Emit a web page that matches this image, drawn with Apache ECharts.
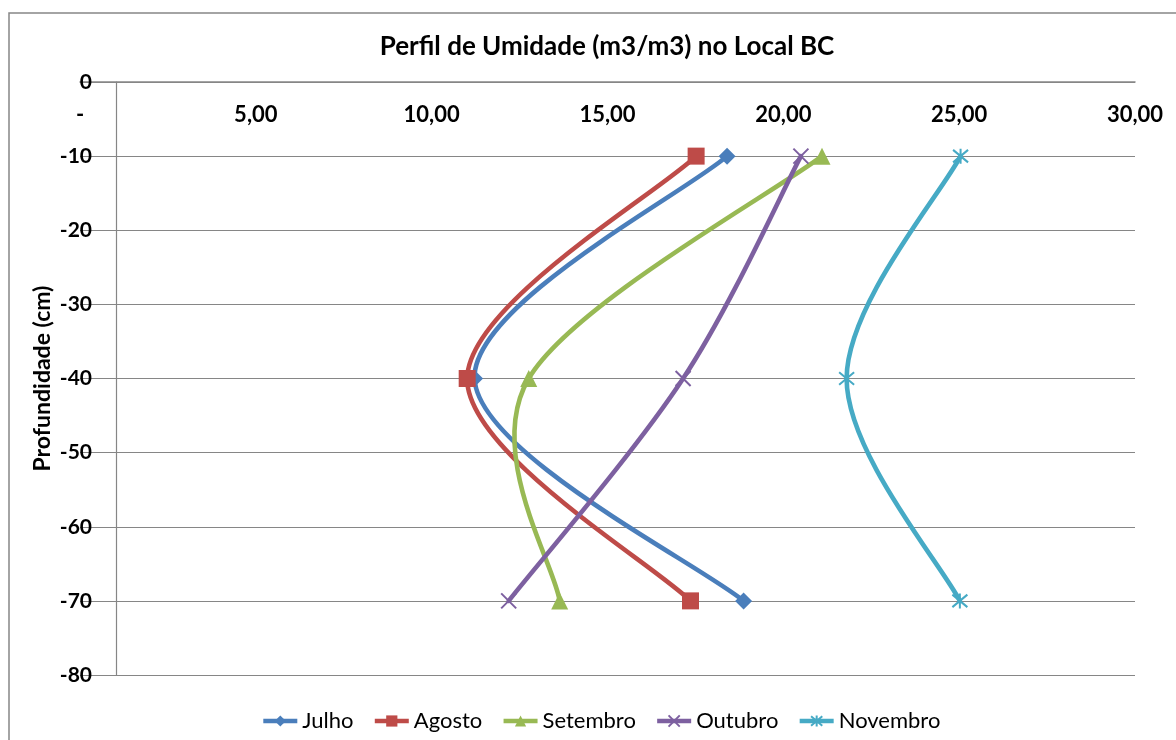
<!DOCTYPE html>
<html>
<head>
<meta charset="utf-8">
<script src="https://cdn.jsdelivr.net/npm/echarts@6/dist/echarts.min.js"></script>
<style>
  html, body { margin: 0; padding: 0; background: #fff; }
  #chart { width: 1176px; height: 740px; }
</style>
</head>
<body>
<div id="chart"></div>
<script>
// Profundidade (cm) das leituras
var depths = [-10, -40, -70];
// Umidade (m3/m3) por mês
var julho    = [18.40, 11.22, 18.87];
var agosto   = [17.52, 11.01, 17.36];
var setembro = [21.10, 12.76, 13.64];
var outubro  = [20.50, 17.15, 12.19];
var novembro = [25.04, 21.80, 25.02];

var seriesNames = ['Julho', 'Agosto', 'Setembro', 'Outubro', 'Novembro'];
var seriesValues = [julho, agosto, setembro, outubro, novembro];
var colors = ['#4A7EBB', '#BE4B48', '#98B954', '#7D60A0', '#46AAC5'];
var symbols = [
  'diamond',
  'rect',
  'triangle',
  'path://M0,0L10,10M10,0L0,10',
  'path://M0,0L10,10M10,0L0,10M5,-1L5,11'
];

var FONT = 'Lato, "Open Sans", sans-serif';
var AXIS_GREY = '#868686';
var LINE_W = 4.6;

function pairs(values) {
  return values.map(function (v, i) { return [v, depths[i]]; });
}

// Smoothed path through the points: cubic Bezier segments whose control
// points follow the neighbouring points (tangent = (next - prev) / 6),
// with the end points repeated at both ends.
function smoothPath(pts) {
  var n = pts.length;
  var d = 'M' + pts[0][0] + ' ' + pts[0][1];
  for (var i = 0; i < n - 1; i++) {
    var p0 = pts[Math.max(i - 1, 0)];
    var p1 = pts[i];
    var p2 = pts[i + 1];
    var p3 = pts[Math.min(i + 2, n - 1)];
    var c1x = p1[0] + (p2[0] - p0[0]) / 6;
    var c1y = p1[1] + (p2[1] - p0[1]) / 6;
    var c2x = p2[0] - (p3[0] - p1[0]) / 6;
    var c2y = p2[1] - (p3[1] - p1[1]) / 6;
    d += ' C' + c1x + ' ' + c1y + ' ' + c2x + ' ' + c2y + ' ' + p2[0] + ' ' + p2[1];
  }
  return d;
}

var series = [];

// Markers (these also provide the legend icons)
seriesNames.forEach(function (name, i) {
  var isCross = i >= 3;
  series.push({
    name: name,
    type: 'line',
    data: pairs(seriesValues[i]),
    symbol: symbols[i],
    symbolSize: isCross ? 15 : 17,
    showAllSymbol: true,
    color: colors[i],
    lineStyle: { color: colors[i], width: LINE_W, opacity: 0 },
    itemStyle: isCross
      ? { color: colors[i], borderColor: colors[i], borderWidth: 2 }
      : { color: colors[i] },
    z: 10 + i
  });
});

// Smoothed curves
seriesNames.forEach(function (name, i) {
  var values = seriesValues[i];
  series.push({
    name: name,
    type: 'custom',
    data: pairs(values),
    color: colors[i],
    itemStyle: { color: colors[i] },
    z: 2 + i,
    silent: true,
    renderItem: function (params, api) {
      if (params.dataIndex !== 0) { return null; }
      var pts = values.map(function (v, k) { return api.coord([v, depths[k]]); });
      return {
        type: 'path',
        shape: { pathData: smoothPath(pts) },
        style: {
          fill: 'none',
          stroke: colors[i],
          lineWidth: LINE_W,
          lineJoin: 'round',
          lineCap: 'round'
        }
      };
    }
  });
});

var legendData = seriesNames.map(function (name, i) {
  return {
    name: name,
    lineStyle: { color: colors[i], width: LINE_W, opacity: 1 }
  };
});

var chart = echarts.init(document.getElementById('chart'), null, { renderer: 'canvas' });
chart.setOption({
  animation: false,
  backgroundColor: '#fff',
  graphic: [{
    type: 'rect',
    shape: { x: 9, y: 13, width: 1300, height: 900 },
    style: { fill: 'none', stroke: AXIS_GREY, lineWidth: 1.5 },
    silent: true,
    z: -1
  }],
  title: {
    text: 'Perfil de Umidade (m3/m3) no Local BC',
    left: 602,
    textAlign: 'center',
    top: 29,
    textStyle: { fontFamily: FONT, fontSize: 26, fontWeight: 'bold', color: '#000' }
  },
  legend: {
    data: legendData,
    left: 256,
    top: 705,
    itemWidth: 34,
    itemHeight: 14,
    itemGap: 19,
    textStyle: { fontFamily: FONT, fontSize: 22, color: '#000' }
  },
  grid: { left: 80, right: 41, top: 82, bottom: 65, containLabel: false },
  xAxis: {
    type: 'value',
    position: 'top',
    min: 0,
    max: 30,
    interval: 5,
    axisLine: { show: true, lineStyle: { color: AXIS_GREY, width: 1.5 } },
    axisTick: { show: false },
    splitLine: { show: false },
    axisLabel: {
      inside: true,
      margin: 22,
      fontFamily: FONT,
      fontSize: 22,
      fontWeight: 'bold',
      color: '#000',
      formatter: function (v) { return v === 0 ? '-' : v.toFixed(2).replace('.', ','); }
    }
  },
  yAxis: {
    type: 'value',
    min: -80,
    max: 0,
    interval: 10,
    offset: -36,
    name: 'Profundidade (cm)',
    nameLocation: 'middle',
    nameRotate: 90,
    nameGap: 62,
    nameMoveOverlap: false,
    nameTextStyle: { fontFamily: FONT, fontSize: 23, fontWeight: 'bold', color: '#000' },
    axisLine: { show: true, lineStyle: { color: AXIS_GREY, width: 1.2 } },
    axisTick: { show: false },
    splitLine: { show: true, lineStyle: { color: AXIS_GREY, width: 1.2 } },
    axisLabel: {
      margin: 24,
      fontFamily: FONT,
      fontSize: 21,
      fontWeight: 'bold',
      color: '#000'
    }
  },
  series: series
});
</script>
</body>
</html>
